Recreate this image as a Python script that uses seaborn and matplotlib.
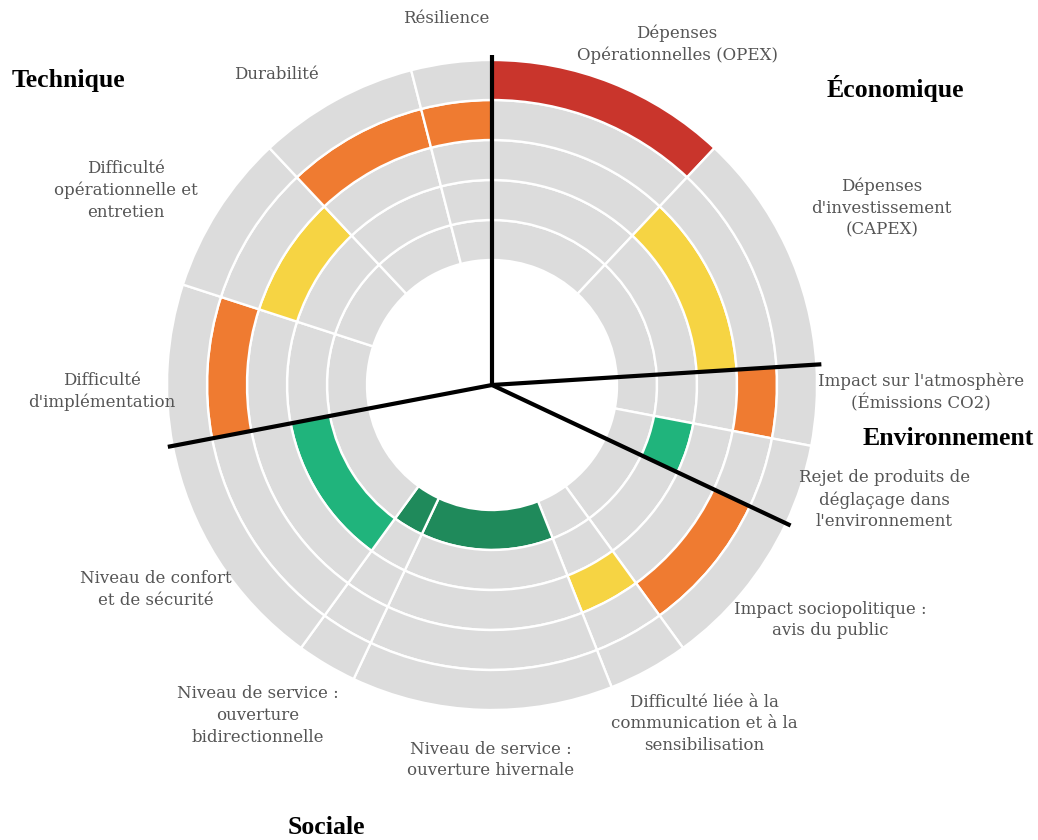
import numpy as np
import matplotlib
matplotlib.use("Agg")
import matplotlib.pyplot as plt
import seaborn as sns

sns.set_theme(style="white")
plt.rcParams["font.family"] = ["DejaVu Serif", "DejaVu Sans"]

# criteria, clockwise from the top
criteria = [
    "Dépenses\nOpérationnelles (OPEX)",
    "Dépenses\nd'investissement\n(CAPEX)",
    "Impact sur l'atmosphère\n(Émissions CO2)",
    "Rejet de produits de\ndéglaçage dans\nl'environnement",
    "Impact sociopolitique :\navis du public",
    "Difficulté liée à la\ncommunication et à la\nsensibilisation",
    "Niveau de service :\nouverture hivernale",
    "Niveau de service :\nouverture\nbidirectionnelle",
    "Niveau de confort\net de sécurité",
    "Difficulté\nd'implémentation",
    "Difficulté\nopérationnelle et\nentretien",
    "Durabilité",
    "Résilience",
]
weights = [12, 12, 4, 4, 8, 4, 13, 3, 12, 8, 8, 8, 4]   # % of the circle
scores = [5, 3, 4, 2, 4, 3, 1, 1, 2, 4, 3, 4, 4]        # 1 = best ... 5 = worst
groups = ["Économique", "Environnement", "Sociale", "Technique"]
group_sizes = [2, 2, 5, 4]

level_colors = {1: "#1f8a5b", 2: "#20b47c", 3: "#f6d443", 4: "#ef7b31", 5: "#c9352c"}
cell_gray = "#dcdcdc"

n_levels = 5
r0, ring_w = 125, 40

# label placement (clockwise degrees from top, radius in px)
label_pos = [(28.5, 388), (65.6, 428), (91, 429), (106.3, 409), (124.8, 412),
             (147.9, 400), (180.2, 375), (215.3, 405), (238.7, 394), (269, 390),
             (298, 415), (325.3, 378), (352.8, 369)]
group_pos = [(895, 88), (948, 438), (326, 828), (68, 80)]

W, H = 1038, 840
fig = plt.figure(figsize=(W / 100, H / 100), dpi=100)
cx, cy, R = 492, 385, 340
ax = fig.add_axes([(cx - R) / W, (H - cy - R) / H, 2 * R / W, 2 * R / H],
                  projection="polar")
ax.set_theta_zero_location("N")
ax.set_theta_direction(-1)
ax.set_ylim(0, R)
ax.set_axis_off()

widths = np.deg2rad(np.array(weights) * 3.6)
starts = np.concatenate([[0], np.cumsum(widths)[:-1]])
mids = starts + widths / 2

for lev in range(1, n_levels + 1):
    cols = [level_colors[lev] if s == lev else cell_gray for s in scores]
    ax.bar(mids, ring_w, width=widths, bottom=r0 + (lev - 1) * ring_w,
           color=cols, edgecolor="white", linewidth=1.7, align="center")

# group separators
bounds = np.cumsum([0] + group_sizes)[:-1]
for b in bounds:
    ax.plot([starts[b], starts[b]], [0, 330], color="black", lw=3,
            solid_capstyle="butt", zorder=5)

for lab, (th, r) in zip(criteria, label_pos):
    ax.text(np.deg2rad(th), r, lab, ha="center", va="center",
            fontsize=12, color="#555555", linespacing=1.35)

for g, (x, y) in zip(groups, group_pos):
    fig.text(x / W, 1 - y / H, g, ha="center", va="center", fontsize=18.5,
             fontweight="bold", family="Liberation Serif", color="black")

fig.savefig("out.png", dpi=100, facecolor="white")
